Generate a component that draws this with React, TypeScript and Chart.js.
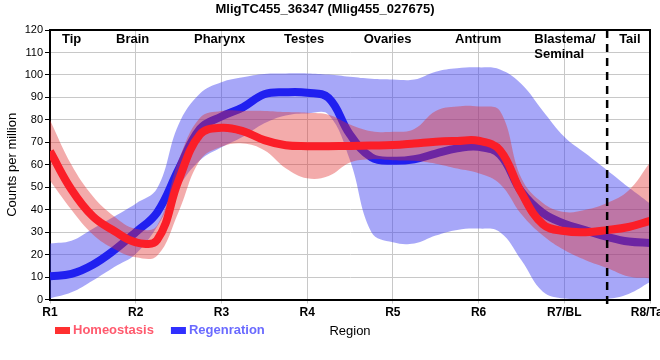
import React, { useEffect, useRef } from "react";
import { Chart, registerables } from "chart.js";

Chart.register(...registerables);

const TITLE = "MligTC455_36347 (Mlig455_027675)";
const Y_TITLE = "Counts per million";
const X_TITLE = "Region";

const xTickLabels = ["R1", "R2", "R3", "R4", "R5", "R6", "R7/BL", "R8/Tail"];
const regionNames = [["Tip"], ["Brain"], ["Pharynx"], ["Testes"], ["Ovaries"], ["Antrum"], ["Blastema/", "Seminal"], ["Tail"]];
const regionLeftX = [1.14, 1.77, 2.68, 3.73, 4.66, 5.725, 6.65, 7.64];
const dividerX = 7.5;

const samplePositions = [1, 1.25, 1.5, 1.75, 2, 2.25, 2.5, 2.75, 3, 3.25, 3.5, 3.75, 4, 4.25, 4.5, 4.75, 5, 5.25, 5.5, 5.75, 6, 6.25, 6.5, 6.75, 7, 7.25, 7.5, 7.75, 8];

const homeoMean = [66, 49, 37, 30.5, 25.5, 26.5, 53, 73.5, 76.5, 75, 71, 68.7, 68.3, 68.3, 68.4, 68.6, 68.8, 69.5, 70.3, 70.6, 70.7, 66.5, 47.5, 33.5, 30.5, 30, 30.9, 32.3, 35];
const homeoUpper = [80, 60, 46, 37, 31.5, 33, 62, 81, 84, 84, 84, 83.5, 83.2, 82.3, 78, 75, 74.7, 76, 84, 86, 86, 84, 54, 43, 39, 40, 43, 48.5, 61];
const homeoLower = [53, 40, 29, 22.5, 18.8, 19.5, 39, 62, 68, 69.5, 66.5, 58.5, 54, 55, 61, 62.5, 62, 61.8, 60.5, 58.3, 56.2, 51.5, 38, 28.5, 22, 17.5, 14, 10.2, 9.4];

const regenMean = [10.3, 11.4, 15.5, 22, 30, 38.8, 58, 76, 81.5, 85.6, 91.4, 92.3, 92.1, 89.8, 73.5, 63.3, 61.8, 62.5, 65, 67.3, 68, 64.5, 48, 38.5, 33.8, 30.8, 27.9, 25.8, 25.2];
const regenUpper = [25, 26.2, 31.5, 37, 42.7, 49.5, 78, 91.8, 96.8, 99, 100.5, 100.7, 100.7, 100.2, 99.2, 98.3, 98, 98, 101.5, 103, 103.4, 102.5, 96, 84, 72.5, 65, 57.6, 50, 42.8];
const regenLower = [0.5, 3.2, 8.5, 14.5, 20.3, 32.5, 50, 62, 67.8, 72.5, 78.5, 82, 82.9, 82.3, 62, 30, 25.5, 25, 28.5, 31, 31.6, 30, 17.5, 3.5, 0.4, 0, 0.3, 2.5, 7.8];

const seriesLabels = ["Homeostasis", "Regenration"];
const lineColors = ["#fb1e28", "#2020f0"];
const bandColors = ["rgba(225,45,45,0.4)", "rgba(60,60,240,0.45)"];
const legendSwatchColors = ["#ff3030", "#3030ff"];
const legendTextColors = ["#ff5a6e", "#6a6aff"];

const FONT = '"Liberation Sans", Arial, sans-serif';

const pts = (arr: number[]) => samplePositions.map((x, i) => ({ x, y: arr[i] }));

const decorPlugin = {
  id: "decor",
  afterDatasetsDraw(chart: any) {
    const { ctx, chartArea: a, scales } = chart;
    const x = scales.x;
    ctx.save();
    ctx.strokeStyle = "#000";
    ctx.lineWidth = 2;
    ctx.beginPath();
    ctx.moveTo(a.left, a.top);
    ctx.lineTo(a.right, a.top);
    ctx.lineTo(a.right, a.bottom);
    ctx.stroke();

    const dx = x.getPixelForValue(dividerX);
    ctx.setLineDash([8, 6]);
    ctx.lineWidth = 2.5;
    ctx.beginPath();
    ctx.moveTo(dx, a.top);
    ctx.lineTo(dx, a.bottom + 5);
    ctx.stroke();
    ctx.setLineDash([]);

    ctx.font = "bold 13px " + FONT;
    ctx.fillStyle = "#000";
    ctx.textAlign = "left";
    ctx.textBaseline = "middle";
    regionNames.forEach((lines, i) => {
      const px = x.getPixelForValue(regionLeftX[i]);
      lines.forEach((t, j) => ctx.fillText(t, px, a.top + 9.5 + j * 14.5));
    });
    ctx.restore();
  },
  afterDraw(chart: any) {
    const { ctx } = chart;
    ctx.save();
    ctx.font = "bold 13px " + FONT;
    ctx.textBaseline = "middle";
    ctx.textAlign = "left";
    let cx = 55;
    const cy = 330.5;
    seriesLabels.forEach((label, i) => {
      ctx.fillStyle = legendSwatchColors[i];
      ctx.fillRect(cx, cy - 3.5, 15, 7);
      ctx.fillStyle = legendTextColors[i];
      ctx.fillText(label, cx + 18, cy);
      cx += 18 + ctx.measureText(label).width + 17;
    });
    ctx.restore();
  },
};

export default function App() {
  const ref = useRef<HTMLCanvasElement>(null);
  useEffect(() => {
    const mkLine = (label: string, data: number[], color: string) => ({
      label,
      data: pts(data),
      borderColor: color,
      backgroundColor: color,
      borderWidth: 8,
      pointRadius: 0,
      tension: 0.4,
      fill: false,
    });
    const mkBand = (data: number[], color: string, fill: any) => ({
      label: "",
      data: pts(data),
      borderColor: "rgba(0,0,0,0)",
      backgroundColor: color,
      borderWidth: 0,
      pointRadius: 0,
      tension: 0.4,
      fill,
    });
    const chart = new Chart(ref.current!, {
      type: "line",
      data: {
        datasets: [
          mkLine(seriesLabels[0], homeoMean, lineColors[0]),
          mkBand(homeoUpper, bandColors[0], "+1"),
          mkBand(homeoLower, bandColors[0], false),
          mkLine(seriesLabels[1], regenMean, lineColors[1]),
          mkBand(regenUpper, bandColors[1], "+1"),
          mkBand(regenLower, bandColors[1], false),
        ] as any,
      },
      options: {
        animation: false,
        responsive: true,
        maintainAspectRatio: false,
        events: [],
        layout: { padding: { left: 0, right: 10, top: 0, bottom: 0 } },
        plugins: {
          legend: { display: false },
          tooltip: { enabled: false },
          title: {
            display: true,
            text: TITLE,
            color: "#000",
            font: { family: FONT, size: 13, weight: "bold" },
            padding: { top: 1.5, bottom: 13 },
          },
        },
        scales: {
          x: {
            type: "linear",
            min: 1,
            max: 8,
            z: 1,
            afterFit: (s: any) => {
              s.height = 60.5;
              s.paddingLeft = 0;
              s.paddingRight = 0;
            },
            ticks: {
              stepSize: 1,
              maxRotation: 0,
              autoSkip: false,
              padding: 2,
              color: "#000",
              font: { family: FONT, size: 12, weight: "bold" },
              callback: (v: any) => xTickLabels[Math.round(v) - 1] ?? "",
            },
            grid: { color: "#c8c8c8", tickColor: "#c8c8c8", tickLength: 4, lineWidth: 1 },
            border: { color: "#000", width: 2 },
            title: {
              display: true,
              text: X_TITLE,
              color: "#000",
              font: { family: FONT, size: 13 },
              padding: { top: 0, bottom: 21 },
            },
          },
          y: {
            min: 0,
            max: 120,
            z: 1,
            afterFit: (s: any) => {
              s.width = 50;
            },
            ticks: {
              stepSize: 10,
              padding: 2,
              color: "#000",
              font: { family: FONT, size: 11 },
            },
            grid: { color: "#c8c8c8", tickColor: "#000", tickLength: 5, lineWidth: 1 },
            border: { color: "#000", width: 2 },
            title: {
              display: true,
              text: Y_TITLE,
              color: "#000",
              font: { family: FONT, size: 13 },
              padding: { top: 5, bottom: 0 },
            },
          },
        },
      } as any,
      plugins: [decorPlugin],
    });
    return () => chart.destroy();
  }, []);
  return (
    <div style={{ position: "fixed", left: 0, top: 0, width: 660, height: 360 }}>
      <canvas ref={ref} />
    </div>
  );
}
